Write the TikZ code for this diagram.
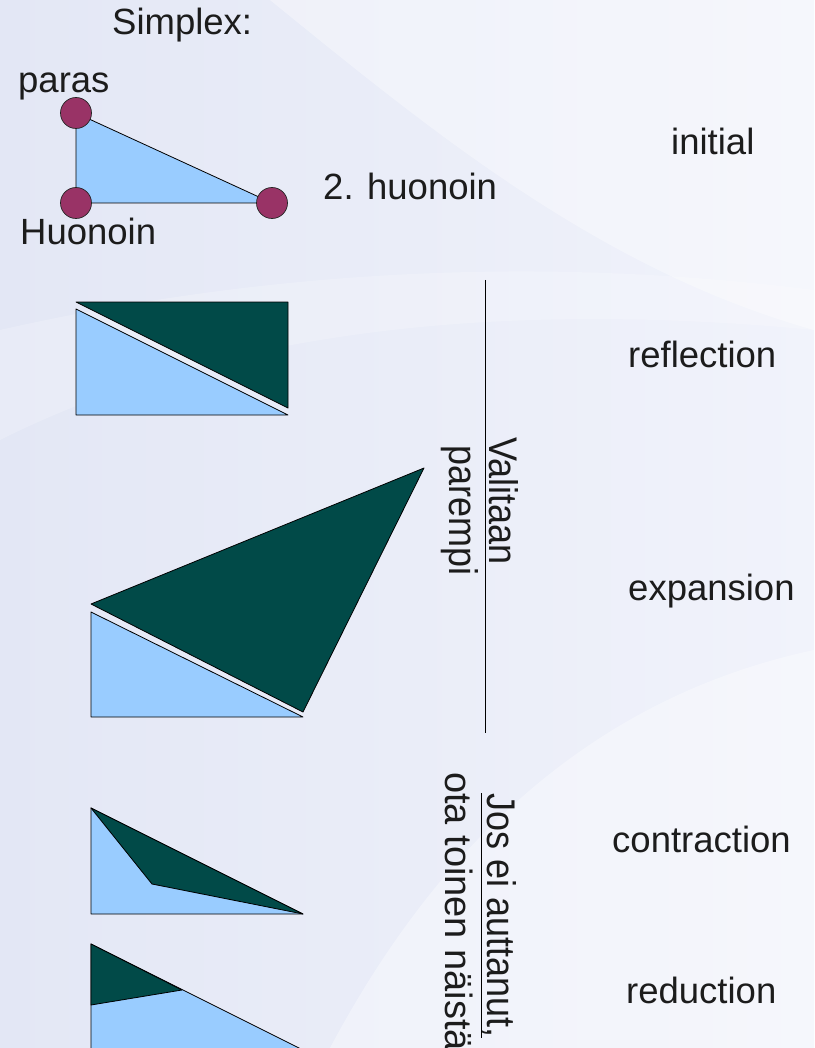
\documentclass[tikz,border=0pt]{standalone}
\usepackage{fontspec}
\setmainfont{Liberation Sans}
\usepackage{xcolor}
\usepackage{tikz}
\usetikzlibrary{positioning}

\definecolor{simplexblue}{HTML}{99CCFF}
\definecolor{simplexdark}{HTML}{014A48}
\definecolor{vertexred}{HTML}{993366}
\definecolor{bgleft}{HTML}{E3E7F5}
\definecolor{bgright}{HTML}{F1F3FB}
\definecolor{textgray}{HTML}{1C1C1C}

\newcommand{\narrow}[1]{\scalebox{0.9}[1]{#1}}

\tikzset{
    basepart/.style={fill=simplexblue, draw=black, line width=0.8pt, line join=round},
    movedpart/.style={fill=simplexdark, draw=black, line width=0.8pt, line join=round},
    vertex/.style={circle, fill=vertexred, draw=black!85, line width=0.7pt, minimum size=31pt, inner sep=0pt},
    lbl/.style={anchor=base west, inner sep=0pt, text=textgray, font=\fontsize{36.5}{44}\selectfont},
    sidelbl/.style={lbl, rotate=-90, font=\fontsize{40}{46}\selectfont},
}

\begin{document}
\begin{tikzpicture}[x=1pt, y=-1pt]
        \useasboundingbox (0, 0) rectangle (814, 1048);
        \clip (0, 0) rectangle (814, 1048);
        \fill[left color=bgleft, right color=bgright] (0, 0) rectangle (814, 1048);
        \fill[white, opacity=0.35] (270, 0) .. controls (430, 130) and (600, 270) .. (814, 330) -- (814, 0) -- cycle;
        \fill[white, opacity=0.2] (0, 330) .. controls (220, 280) and (500, 250) .. (814, 290) -- (814, 330) .. controls (500, 300) and (220, 330) .. (0, 440) -- cycle;
        \fill[white, opacity=0.35] (330, 1048) .. controls (430, 860) and (580, 700) .. (814, 650) -- (814, 1048) -- cycle;

        \coordinate (p) at (76, 113);
        \coordinate (h) at (76, 203);
        \coordinate (t) at (272, 203);
        \draw[basepart] (p) -- (h) -- (t) -- cycle;
        \node[vertex] (paras) at (p) {};
        \node[vertex] (huonoin) at (h) {};
        \node[vertex] (toka) at (t) {};
        \node[lbl] (simplexlbl) at (112, 35) {Simplex:};
        \node[lbl] (paraslbl) at (18, 93) {paras};
        \node[lbl] (huonoinlbl) at (20, 245) {Huonoin};
        \node[lbl] (tokalbl) at (323, 200) {2. huonoin};

        \draw[basepart] (76, 309) -- (76, 415) -- (288, 415) -- cycle;
        \draw[movedpart] (76, 302) -- (288, 302) -- (288, 408) -- cycle;

        \draw[basepart] (91, 612) -- (91, 717) -- (303, 717) -- cycle;
        \draw[movedpart] (91, 604) -- (424, 468) -- (303, 712) -- cycle;

        \draw[basepart] (91, 808) -- (91, 914) -- (303, 914) -- cycle;
        \draw[movedpart] (91, 808) -- (303, 914) -- (152, 884) -- cycle;

        \draw[basepart] (91, 944) -- (91, 1050) -- (303, 1050) -- cycle;
        \draw[movedpart] (91, 944) -- (182, 990) -- (91, 1005) -- cycle;

        \node[lbl] (initial) at (671, 155) {initial};
        \node[lbl] (reflection) at (628, 367) {reflection};
        \node[lbl] (expansion) at (628, 600) {expansion};
        \node[lbl] (contraction) at (612, 852) {contraction};
        \node[lbl] (reduction) at (626, 1003) {reduction};

        \coordinate (bartop) at (485, 280);
        \coordinate (barbottom) at (485, 733);
        \draw[line width=1pt] (bartop) -- (barbottom);
        \node[sidelbl] (valitaan) at (489, 437) {\narrow{Valitaan}};
        \node[sidelbl] (parempi) at (449, 445) {\narrow{parempi}};

        \node[sidelbl] (jos) at (487, 793) {\narrow{Jos ei auttanut,}};
        \node[sidelbl, font=\fontsize{38}{46}\selectfont] (ota) at (445, 772) {ota toinen näistä};
        \draw[line width=1pt] ([xshift=-6pt]jos.base west) -- ([xshift=-6pt]jos.base east);
    \end{tikzpicture}
\end{document}
